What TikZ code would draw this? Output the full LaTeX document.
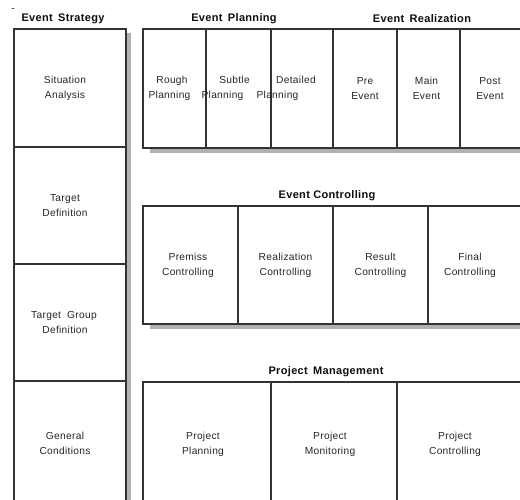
\documentclass[tikz,border=0pt]{standalone}
\usepackage{fontspec}
\setmainfont{Liberation Sans}[LetterSpace=3]
\usetikzlibrary{calc,positioning}
\newcommand{\tshift}[1]{\hspace*{-#1pt}}

\begin{document}
\begin{tikzpicture}[x=1pt,y=-1pt,
    cell/.style = {draw=black!80, line width=1.2pt, rectangle, outer sep=0pt, inner sep=0pt,
                   align=center, text=black!85, font=\fontsize{10.2}{15}\selectfont},
    head/.style = {inner sep=0pt, text=black!95, font=\fontsize{11}{13}\selectfont\bfseries},
    shade/.style = {fill=black!30}]
		\clip (0,0) rectangle (520,499);
		% titles
		\node[head, font=\fontsize{10}{10}\selectfont] (dash) at (13,10) {-};
		\node[head] (es) at (63,19) {Event\hspace{2pt} Strategy};
		\node[head] (ep) at (234,19) {Event\hspace{2pt} Planning};
		\node[head] (er) at (422,19) {Event\hspace{2pt} Realization};
		\node[head] (ec) at (327,196) {Event Controlling};
		\node[head] (pm) at (326,372) {Project\hspace{2pt} Management};
		% event strategy
		\node[cell, anchor=north west, minimum width=112pt, minimum height=118pt] (sa) at (14,29) {\tshift{10}Situation\\\tshift{10}Analysis};
		\node[cell, minimum width=112pt, minimum height=117pt] (td) [below=0pt of sa] {\tshift{10}Target\\\tshift{10}Definition};
		\node[cell, minimum width=112pt, minimum height=117pt] (tgd) [below=0pt of td] {\tshift{12}Target\hspace{3pt} Group\\\tshift{10}Definition};
		\node[cell, minimum width=112pt, minimum height=125pt] (gc) [below=0pt of tgd] {\tshift{10}General\\\tshift{10}Conditions};
		% event planning and realization
		\node[cell, anchor=north west, minimum width=63pt, minimum height=119pt] (rp) at (143,29) {\tshift{5}Rough\\\tshift{10}Planning};
		\node[cell, minimum width=65pt, minimum height=119pt] (sp) [right=0pt of rp] {\tshift{8}Subtle\\\tshift{32}Planning};
		\node[cell, minimum width=62pt, minimum height=119pt] (dp) [right=0pt of sp] {\tshift{12}Detailed\\\tshift{49}Planning};
		\node[cell, minimum width=64pt, minimum height=119pt] (pre) [right=0pt of dp] {Pre\\Event};
		\node[cell, minimum width=63pt, minimum height=119pt] (me) [right=0pt of pre] {\tshift{4}Main\\\tshift{4}Event};
		\node[cell, minimum width=64pt, minimum height=119pt] (pe) [right=0pt of me] {\tshift{4}Post\\\tshift{4}Event};
		% event controlling
		\node[cell, anchor=north west, minimum width=95pt, minimum height=118pt] (pc) at (143,206) {\tshift{5}Premiss\\\tshift{5}Controlling};
		\node[cell, minimum width=95pt, minimum height=118pt] (rc) [right=0pt of pc] {Realization\\Controlling};
		\node[cell, minimum width=95pt, minimum height=118pt] (rsc) [right=0pt of rc] {Result\\Controlling};
		\node[cell, minimum width=95pt, minimum height=118pt] (fc) [right=0pt of rsc] {\tshift{11}Final\\\tshift{11}Controlling};
		% project management
		\node[cell, anchor=north west, minimum width=128pt, minimum height=125pt] (ppl) at (143,382) {\tshift{8}Project\\\tshift{8}Planning};
		\node[cell, minimum width=126pt, minimum height=125pt] (pmo) [right=0pt of ppl] {\tshift{8}Project\\\tshift{8}Monitoring};
		\node[cell, minimum width=126pt, minimum height=125pt] (pco) [right=0pt of pmo] {\tshift{10}Project\\\tshift{10}Controlling};
		% shadows
		\fill[shade] ($(sa.north east)+(0.6,4)$) rectangle ($(gc.south east)+(5,0)$);
		\fill[shade] ($(rp.south west)+(7,0.6)$) rectangle ($(pe.south east)+(0,5)$);
		\fill[shade] ($(pc.south west)+(7,0.6)$) rectangle ($(fc.south east)+(0,5)$);
	\end{tikzpicture}
\end{document}
